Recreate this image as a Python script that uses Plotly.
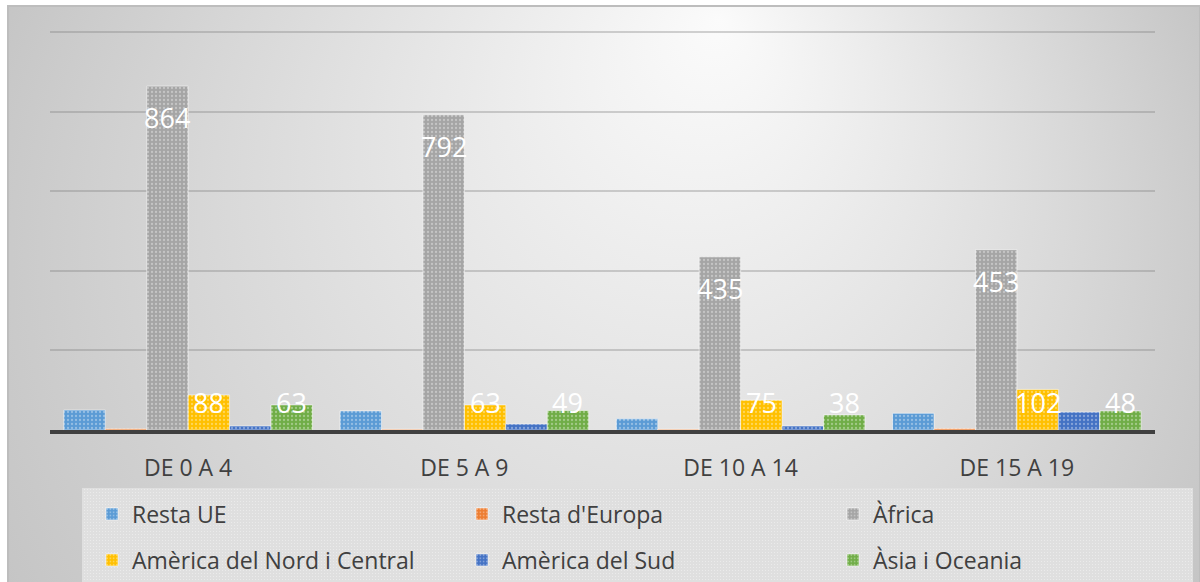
import base64
import plotly.graph_objects as go

categories = ["DE 0 A 4", "DE 5 A 9", "DE 10 A 14", "DE 15 A 19"]
series_names = ["Resta UE", "Resta d'Europa", "Àfrica",
                "Amèrica del Nord i Central", "Amèrica del Sud", "Àsia i Oceania"]
resta_ue = [50, 48, 28, 42]
resta_europa = [3, 2, 2, 4]
africa = [864, 792, 435, 453]
america_nord = [88, 63, 75, 102]
america_sud = [10, 15, 10, 45]
asia_oceania = [63, 49, 38, 48]
series_values = [resta_ue, resta_europa, africa, america_nord, america_sud, asia_oceania]
labelled = [False, False, True, True, False, True]
colors = ["#5B9BD5", "#ED7D31", "#A5A5A5", "#FFC000", "#4472C4", "#70AD47"]

W, H = 1200, 582
L, R, T, B = 50, 45, 30, 152
pw, ph = W - L - R, H - T - B
YMAX = 1005
BARGAP = 0.1
n = len(series_names)
bw = (1 - BARGAP) / n

# legend grid (text start x in px, row centre y in px)
legend_cols = [134, 504, 875]
legend_rows = [514, 560]

svg = f'''<svg xmlns="http://www.w3.org/2000/svg" width="{W}" height="{H}" viewBox="0 0 {W} {H}">
<defs>
<radialGradient id="g" gradientUnits="userSpaceOnUse" cx="600" cy="300" r="690" fx="720" fy="20">
<stop offset="0" stop-color="#fbfbfb"/><stop offset="1" stop-color="#c3c3c3"/>
</radialGradient>
<pattern id="p" width="3" height="3" patternUnits="userSpaceOnUse">
<rect width="3" height="3" fill="#dfdfdf"/><rect width="1" height="1" fill="#ebebeb"/>
</pattern>
</defs>
<rect x="8" y="6" width="1192" height="580" fill="url(#g)" stroke="#bdbdbd" stroke-width="2"/>
<rect x="82" y="488" width="1111" height="100" fill="url(#p)"/>
</svg>'''
src = "data:image/svg+xml;base64," + base64.b64encode(svg.encode()).decode()

fig = go.Figure()
xs = list(range(len(categories)))
legend_layouts = {}
for k, (name, vals, col) in enumerate(zip(series_names, series_values, colors)):
    lname = "legend" if k == 0 else f"legend{k + 1}"
    fig.add_trace(go.Bar(
        x=xs, y=vals, name=name,
        marker=dict(color=col,
                    line=dict(color="rgba(255,255,255,0.55)", width=1),
                    pattern=dict(shape=".", size=4, solidity=0.25,
                                 fgcolor="white", fgopacity=0.35, fillmode="overlay")),
        legend=lname,
        hoverinfo="skip",
    ))
    tx = legend_cols[k % 3]
    ty = legend_rows[k // 3]
    legend_layouts[lname] = dict(
        orientation="h", xanchor="left", yanchor="middle",
        x=(tx - 42 - L) / pw, y=(H - B - ty) / ph,
        bgcolor="rgba(0,0,0,0)",
        font=dict(family="Open Sans", size=23, color="#404040"),
        itemclick=False, itemdoubleclick=False)

annotations = []
for k, vals in enumerate(series_values):
    if not labelled[k]:
        continue
    for i, v in enumerate(vals):
        xc = i - (1 - BARGAP) / 2 + bw * (k + 0.5)
        yc = max(v - 80, 70)
        annotations.append(dict(x=xc, y=yc, xref="x", yref="y", text=str(v),
                                showarrow=False, yanchor="middle",
                                font=dict(family="Open Sans", size=27, color="white")))

fig.update_layout(
    width=W, height=H,
    margin=dict(l=L, r=R, t=T, b=B, autoexpand=False),
    paper_bgcolor="white", plot_bgcolor="rgba(0,0,0,0)",
    barmode="group", bargap=BARGAP, bargroupgap=0,
    font=dict(family="Open Sans", color="#404040"),
    xaxis=dict(tickvals=xs, ticktext=categories, range=[-0.5, len(categories) - 0.5],
               showgrid=False, zeroline=False, showline=True, linecolor="#404040",
               linewidth=4, ticks="outside", ticklen=14, tickcolor="rgba(0,0,0,0)",
               tickfont=dict(family="Open Sans", size=23, color="#404040"),
               fixedrange=True, automargin=False),
    yaxis=dict(range=[0, YMAX], tick0=0, dtick=200, showticklabels=False, zeroline=False,
               showgrid=True, gridcolor="rgba(120,120,120,0.33)", gridwidth=2,
               fixedrange=True, automargin=False),
    annotations=annotations,
    images=[dict(source=src, xref="paper", yref="paper", x=-L / pw, y=(H - B) / ph,
                 sizex=W / pw, sizey=H / ph, xanchor="left", yanchor="top",
                 sizing="stretch", layer="below")],
    showlegend=True,
    **legend_layouts,
)

fig.write_html("out.html", config={"displayModeBar": False},
               post_script="document.body.style.margin='0';document.body.style.overflow='hidden';")
